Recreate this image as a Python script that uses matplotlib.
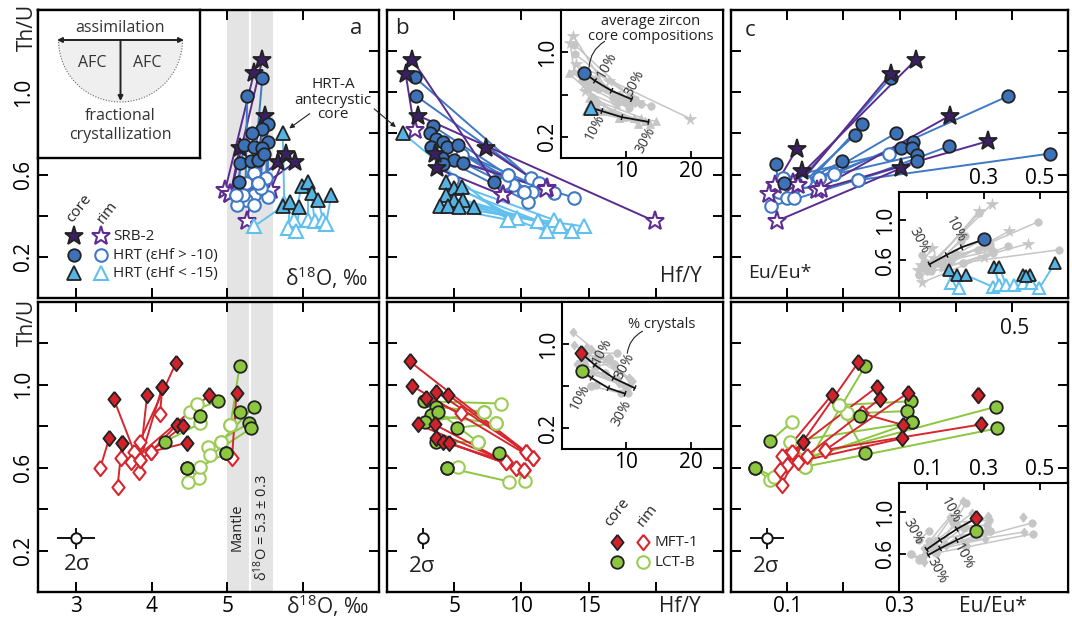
import matplotlib
matplotlib.use('Agg')
import numpy as np
import matplotlib.pyplot as plt
from matplotlib.patches import Wedge, FancyArrowPatch
from matplotlib.lines import Line2D

plt.rcParams['font.family'] = ['Open Sans', 'DejaVu Sans']
plt.rcParams['mathtext.fontset'] = 'custom'
plt.rcParams['mathtext.rm'] = 'Open Sans'
plt.rcParams['mathtext.it'] = 'Open Sans:italic'

# ---------------- data: panel a (delta18O vs Th/U), top ----------------
srb_a_core_x = [5.46, 5.35, 5.49, 5.16, 5.67, 5.77, 5.89]
srb_a_core_y = [1.158, 1.094, 0.887, 0.727, 0.659, 0.70, 0.659]
srb_a_rim_x = [5.04, 4.97, 5.26, 5.04, 5.30, 5.57, 5.40]
srb_a_rim_y = [0.504, 0.525, 0.375, 0.504, 0.55, 0.525, 0.53]

hrt1_a_core_x = [5.46, 5.26, 5.53, 5.46, 5.33, 5.22, 5.35, 5.53, 5.46, 5.17, 5.31, 5.40, 5.48, 5.15]
hrt1_a_core_y = [1.068, 0.981, 0.847, 0.82, 0.80, 0.743, 0.735, 0.76, 0.727, 0.654, 0.665, 0.67, 0.70, 0.562]
hrt1_a_rim_x = [5.35, 5.24, 5.51, 5.40, 5.35, 5.11, 5.24, 5.53, 5.44, 5.13, 5.21, 5.35, 5.40, 5.11]
hrt1_a_rim_y = [0.606, 0.557, 0.582, 0.557, 0.50, 0.50, 0.475, 0.49, 0.533, 0.451, 0.50, 0.451, 0.557, 0.50]

hrt2_a_core_x = [5.73, 5.73, 5.98, 6.06, 6.11, 6.20, 6.37, 5.83, 5.95]
hrt2_a_core_y = [0.80, 0.445, 0.546, 0.566, 0.51, 0.477, 0.50, 0.469, 0.44]
hrt2_a_rim_x = [5.75, 5.35, 5.88, 6.06, 6.15, 6.26, 6.30, 5.80, 5.91]
hrt2_a_rim_y = [0.46, 0.348, 0.38, 0.38, 0.372, 0.38, 0.36, 0.34, 0.324]

# ---------------- panel b (Hf/Y vs Th/U), top ----------------
srb_b_core_x = [1.89, 1.39, 2.31, 7.37, 3.72, 3.60]
srb_b_core_y = [1.158, 1.089, 0.887, 0.727, 0.63, 0.70]
srb_b_rim_x = [8.60, 2.06, 19.96, 11.9, 8.60, 11.8]
srb_b_rim_y = [0.50, 0.815, 0.372, 0.533, 0.50, 0.53]

hrt1_b_core_x = [2.06, 2.13, 3.42, 3.17, 3.67, 4.16, 3.30, 4.48, 5.27, 4.11, 5.02, 5.69, 4.16, 7.99]
hrt1_b_core_y = [1.073, 0.984, 0.836, 0.80, 0.775, 0.76, 0.735, 0.735, 0.743, 0.68, 0.67, 0.654, 0.649, 0.566]
hrt1_b_rim_x = [10.7, 11.3, 8.98, 10.2, 9.35, 10.8, 8.73, 12.4, 5.59, 10.5, 13.9, 8.98, 4.85, 10.2]
hrt1_b_rim_y = [0.582, 0.557, 0.598, 0.517, 0.549, 0.517, 0.557, 0.509, 0.697, 0.469, 0.488, 0.598, 0.573, 0.517]

hrt2_b_core_x = [1.2, 4.36, 5.02, 5.59, 4.36, 5.02, 5.69, 3.91, 4.53, 5.35, 6.5]
hrt2_b_core_y = [0.80, 0.566, 0.533, 0.541, 0.50, 0.477, 0.477, 0.445, 0.445, 0.44, 0.44]
hrt2_b_rim_x = [9.0, 9.7, 11.2, 12.4, 11.9, 12.9, 13.8, 9.0, 14.65, 11.2, 12.9]
hrt2_b_rim_y = [0.38, 0.388, 0.376, 0.38, 0.324, 0.348, 0.324, 0.38, 0.348, 0.376, 0.348]

# ---------------- panel c (Eu/Eu* vs Th/U), top ----------------
srb_c_core_x = [0.329, 0.284, 0.39, 0.457, 0.117, 0.126, 0.302]
srb_c_core_y = [1.158, 1.089, 0.887, 0.762, 0.723, 0.617, 0.63]
srb_c_rim_x = [0.11, 0.12, 0.153, 0.16, 0.079, 0.067, 0.082]
srb_c_rim_y = [0.56, 0.55, 0.525, 0.53, 0.549, 0.504, 0.375]

hrt1_c_core_x = [0.080, 0.095, 0.284, 0.493, 0.233, 0.22, 0.294, 0.302, 0.324, 0.323, 0.388, 0.332, 0.332, 0.198, 0.568]
hrt1_c_core_y = [0.651, 0.561, 1.07, 0.981, 0.844, 0.791, 0.802, 0.727, 0.759, 0.731, 0.738, 0.694, 0.665, 0.665, 0.702]
hrt1_c_rim_x = [0.085, 0.099, 0.117, 0.184, 0.112, 0.132, 0.156, 0.281, 0.156, 0.093, 0.226, 0.184, 0.071, 0.132, 0.226]
hrt1_c_rim_y = [0.517, 0.488, 0.553, 0.601, 0.488, 0.569, 0.582, 0.698, 0.582, 0.582, 0.573, 0.601, 0.445, 0.569, 0.573]

hrt2_c_core_x = [0.177, 0.207, 0.237, 0.338, 0.356, 0.44, 0.464, 0.553, 0.45]
hrt2_c_core_y = [0.50, 0.45, 0.45, 0.527, 0.527, 0.45, 0.45, 0.567, 0.44]
hrt2_c_rim_x = [0.183, 0.213, 0.332, 0.356, 0.38, 0.41, 0.44, 0.498, 0.47]
hrt2_c_rim_y = [0.367, 0.317, 0.333, 0.35, 0.35, 0.35, 0.367, 0.317, 0.367]

# ---------------- bottom row ----------------
mft_a_core_x = [4.32, 4.14, 3.94, 3.50, 4.76, 5.12, 4.33, 4.41, 4.46, 3.44, 3.61, 3.61, 4.14]
mft_a_core_y = [1.105, 0.99, 0.95, 0.931, 0.95, 0.963, 0.806, 0.802, 0.72, 0.742, 0.718, 0.718, 0.99]
mft_a_rim_x = [3.84, 4.11, 3.83, 3.77, 3.73, 5.06, 3.99, 3.85, 3.99, 3.32, 3.60, 3.55, 3.85]
mft_a_rim_y = [0.725, 0.857, 0.581, 0.677, 0.629, 0.646, 0.677, 0.637, 0.677, 0.598, 0.646, 0.509, 0.637]

lct_a_core_x = [5.16, 4.87, 5.17, 5.35, 4.64, 5.28, 5.31, 4.17, 4.98, 4.47, 4.98, 4.47]
lct_a_core_y = [1.09, 0.921, 0.87, 0.894, 0.849, 0.814, 0.79, 0.725, 0.67, 0.598, 0.67, 0.598]
lct_a_rim_x = [5.04, 4.51, 5.04, 4.91, 4.60, 4.75, 4.77, 4.64, 4.91, 4.63, 4.64, 4.48]
lct_a_rim_y = [0.806, 0.87, 0.806, 0.725, 0.91, 0.70, 0.66, 0.814, 0.725, 0.55, 0.605, 0.533]

mft_b_core_x = [1.69, 1.87, 2.93, 3.67, 4.53, 2.31, 3.54, 3.61, 4.16, 4.65]
mft_b_core_y = [1.113, 0.995, 0.937, 0.966, 0.953, 0.809, 0.809, 0.742, 0.725, 0.72]
mft_b_rim_x = [10.33, 10.83, 5.52, 10.33, 10.83, 8.85, 9.59, 10.2, 8.85, 10.2]
mft_b_rim_y = [0.677, 0.646, 0.862, 0.677, 0.646, 0.63, 0.601, 0.589, 0.63, 0.589]

lct_b_core_x = [2.75, 3.67, 3.30, 3.79, 2.85, 5.22, 3.67, 8.36, 4.46, 4.46]
lct_b_core_y = [0.921, 0.894, 0.854, 0.87, 0.819, 0.793, 0.725, 0.673, 0.601, 0.601]
lct_b_rim_x = [8.48, 7.24, 8.11, 6.75, 7.24, 8.11, 6.75, 10.26, 5.27, 9.1]
lct_b_rim_y = [0.91, 0.87, 0.814, 0.725, 0.87, 0.814, 0.725, 0.537, 0.605, 0.533]

mft_c_core_x = [0.227, 0.26, 0.18, 0.266, 0.316, 0.44, 0.445, 0.307, 0.305, 0.129, 0.129]
mft_c_core_y = [1.11, 0.99, 0.953, 0.934, 0.963, 0.95, 0.809, 0.806, 0.742, 0.725, 0.725]
mft_c_rim_x = [0.099, 0.108, 0.09, 0.135, 0.168, 0.44, 0.168, 0.233, 0.12, 0.088, 0.09]
mft_c_rim_y = [0.613, 0.677, 0.658, 0.658, 0.686, 0.95, 0.686, 0.862, 0.629, 0.589, 0.517]

lct_c_core_x = [0.239, 0.32, 0.313, 0.323, 0.471, 0.474, 0.23, 0.239, 0.07, 0.043, 0.323, 0.043]
lct_c_core_y = [1.091, 0.921, 0.873, 0.819, 0.894, 0.79, 0.85, 0.67, 0.729, 0.598, 0.819, 0.598]
lct_c_rim_x = [0.132, 0.192, 0.207, 0.132, 0.12, 0.132, 0.207, 0.192, 0.108, 0.07, 0.105, 0.076]
lct_c_rim_y = [0.605, 0.902, 0.862, 0.64, 0.64, 0.605, 0.862, 0.902, 0.819, 0.541, 0.725, 0.557]

# ---------------- model curves (insets) ----------------
avg_b_hrt1 = (3.6, 0.805)
curve_b_hrt1_x = [3.6, 5.25, 7.8, 10.9]
curve_b_hrt1_y = [0.805, 0.73, 0.636, 0.556]
avg_b_hrt2 = (4.63, 0.476)
curve_b_hrt2_x = [4.63, 6.3, 9.4, 13.5]
curve_b_hrt2_y = [0.476, 0.444, 0.386, 0.342]
avg_c_hrt1 = (0.302, 0.807)
curve_c_hrt1_x = [0.302, 0.222, 0.169, 0.108]
curve_c_hrt1_y = [0.807, 0.727, 0.65, 0.557]

avg_b_mft = (2.95, 0.914)
curve_b_mft_x = [2.95, 5.1, 8.0, 11.3]
curve_b_mft_y = [0.914, 0.80, 0.676, 0.58]
avg_b_lct = (3.06, 0.746)
curve_b_lct_x = [3.06, 4.6, 7.2, 9.8]
curve_b_lct_y = [0.746, 0.676, 0.58, 0.527]
avg_c_mft = (0.273, 0.939)
curve_c_mft_x = [0.273, 0.205, 0.146, 0.098]
curve_c_mft_y = [0.939, 0.836, 0.73, 0.64]
avg_c_lct = (0.273, 0.816)
curve_c_lct_x = [0.273, 0.205, 0.146, 0.104]
curve_c_lct_y = [0.816, 0.73, 0.65, 0.586]

# 2 sigma error bars (x, y, xerr, yerr)
err_a = (3.0, 0.26, 0.25, 0.05)
err_b = (2.7, 0.26, 0.3, 0.05)
err_c = (0.064, 0.26, 0.03, 0.05)

# ---------------- styles ----------------
DIAM = [(0, 1), (0.8, 0), (0, -1), (-0.8, 0), (0, 1)]
S_SRB = dict(marker='*', ms=14, fill='#3b1f63', rim='#5e2d91', line='#5b2c8f')
S_HRT1 = dict(marker='o', ms=9, fill='#3d72b8', rim='#3f78c4', line='#3f78c4')
S_HRT2 = dict(marker='^', ms=9.5, fill='#56b4e4', rim='#62c0ef', line='#62c0ef')
S_MFT = dict(marker=DIAM, ms=11, fill='#d1222b', rim='#d7262e', line='#d7262e')
S_LCT = dict(marker='o', ms=9, fill='#8dc63f', rim='#9ccc55', line='#8dc63f')
GRAY = '#c6c6c6'
EDGE = '#222222'

W, H = 1072, 619
fig = plt.figure(figsize=(W / 100, H / 100), dpi=100)
fig.patch.set_facecolor('white')


def px_axes(l, t, r, b):
    return fig.add_axes([l / W, 1 - b / H, (r - l) / W, (b - t) / H])


def ftext(x, y, s, **kw):
    kw.setdefault('ha', 'center')
    kw.setdefault('va', 'center')
    kw.setdefault('color', '#222222')
    return fig.text(x / W, 1 - y / H, s, **kw)


def fp(x, y):
    return (x, H - y)


def draw_pairs(ax, cx, cy, rx, ry, st, scale=1.0):
    for x0, y0, x1, y1 in zip(cx, cy, rx, ry):
        ax.plot([x0, x1], [y0, y1], color=st['line'], lw=1.4, zorder=2, solid_capstyle='round')
    ax.plot(rx, ry, ls='none', marker=st['marker'], ms=st['ms'] * scale, mfc='white',
            mec=st['rim'], mew=1.5, zorder=3)
    ax.plot(cx, cy, ls='none', marker=st['marker'], ms=st['ms'] * scale, mfc=st['fill'],
            mec=EDGE, mew=1.3, zorder=4)


def draw_gray(ax, cx, cy, rx, ry, st):
    for x0, y0, x1, y1 in zip(cx, cy, rx, ry):
        ax.plot([x0, x1], [y0, y1], color=GRAY, lw=1.1, zorder=1)
    ax.plot(list(cx) + list(rx), list(cy) + list(ry), ls='none', marker=st['marker'],
            ms=st['ms'] * 0.6, mfc=GRAY, mec=GRAY, mew=0.5, zorder=1)


def style_main(ax, xlim, xticks):
    ax.set_xlim(*xlim)
    ax.set_ylim(0, 1.4)
    ax.set_xticks(xticks)
    ax.set_yticks([0.2, 0.4, 0.6, 0.8, 1.0, 1.2])
    ax.tick_params(direction='in', length=7, width=1.4, top=True, right=True,
                   labelbottom=False, labelleft=False, labelsize=15, pad=3)
    for s in ax.spines.values():
        s.set_linewidth(1.7)


def style_inset(ax, xlim, ylim, xticks, xlabels, yticks, ylabels, top=False):
    ax.set_xlim(*xlim)
    ax.set_ylim(*ylim)
    ax.set_xticks(xticks)
    ax.set_xticklabels(xlabels)
    ax.set_yticks(yticks)
    ax.set_yticklabels(ylabels, rotation=90, va='center')
    ax.tick_params(direction='in', length=5, width=1.3, labelsize=15, pad=2,
                   top=top, bottom=not top, labeltop=top, labelbottom=not top)
    for s in ax.spines.values():
        s.set_linewidth(1.5)
    ax.set_facecolor('white')


def model_curve(ax, xs, ys):
    ax.plot(xs, ys, color='#111111', lw=1.3, zorder=5)
    pts = ax.transData.transform(np.column_stack([xs, ys]))
    inv = ax.transData.inverted()
    n = len(pts)
    for i in range(1, n):
        d = pts[min(i + 1, n - 1)] - pts[i - 1]
        nv = np.array([-d[1], d[0]]) / np.hypot(*d) * 2.3
        seg = inv.transform(np.array([pts[i] - nv, pts[i] + nv]))
        ax.plot(seg[:, 0], seg[:, 1], color='#111111', lw=1.0, zorder=5)


# ---------------- main axes ----------------
ax_a1 = px_axes(38, 10, 379, 298)
ax_b1 = px_axes(387, 10, 723, 298)
ax_c1 = px_axes(731, 10, 1068, 298)
ax_a2 = px_axes(38, 302, 379, 592)
ax_b2 = px_axes(387, 302, 723, 592)
ax_c2 = px_axes(731, 302, 1068, 592)

for ax in (ax_a1, ax_a2):
    style_main(ax, (2.5, 7.0), [3, 4, 5, 6])
    ax.axvspan(5.0, 5.6, color='#e4e4e4', lw=0, zorder=0)
    ax.axvline(5.3, color='white', lw=1.6, zorder=0.5)
for ax in (ax_b1, ax_b2):
    style_main(ax, (0, 25), [5, 10, 15, 20])
for ax in (ax_c1, ax_c2):
    style_main(ax, (0, 0.6), [0.1, 0.2, 0.3, 0.4, 0.5])

for ax in (ax_a1, ax_a2):
    ax.tick_params(labelleft=True)
    ax.set_yticklabels(['0.2', '', '0.6', '', '1.0', ''], rotation=90, va='center')
for ax, labs in ((ax_a2, ['3', '4', '5', '']), (ax_b2, ['5', '10', '15', '']),
                 (ax_c2, ['0.1', '', '0.3', '', ''])):
    ax.tick_params(labelbottom=True)
    ax.set_xticklabels(labs)

# data
draw_pairs(ax_a1, srb_a_core_x, srb_a_core_y, srb_a_rim_x, srb_a_rim_y, S_SRB)
draw_pairs(ax_a1, hrt1_a_core_x, hrt1_a_core_y, hrt1_a_rim_x, hrt1_a_rim_y, S_HRT1)
draw_pairs(ax_a1, hrt2_a_core_x, hrt2_a_core_y, hrt2_a_rim_x, hrt2_a_rim_y, S_HRT2)

draw_pairs(ax_b1, hrt2_b_core_x, hrt2_b_core_y, hrt2_b_rim_x, hrt2_b_rim_y, S_HRT2)
draw_pairs(ax_b1, hrt1_b_core_x, hrt1_b_core_y, hrt1_b_rim_x, hrt1_b_rim_y, S_HRT1)
draw_pairs(ax_b1, srb_b_core_x, srb_b_core_y, srb_b_rim_x, srb_b_rim_y, S_SRB)

draw_pairs(ax_c1, hrt1_c_core_x, hrt1_c_core_y, hrt1_c_rim_x, hrt1_c_rim_y, S_HRT1)
draw_pairs(ax_c1, srb_c_core_x, srb_c_core_y, srb_c_rim_x, srb_c_rim_y, S_SRB)

draw_pairs(ax_a2, lct_a_core_x, lct_a_core_y, lct_a_rim_x, lct_a_rim_y, S_LCT)
draw_pairs(ax_a2, mft_a_core_x, mft_a_core_y, mft_a_rim_x, mft_a_rim_y, S_MFT)
draw_pairs(ax_b2, lct_b_core_x, lct_b_core_y, lct_b_rim_x, lct_b_rim_y, S_LCT)
draw_pairs(ax_b2, mft_b_core_x, mft_b_core_y, mft_b_rim_x, mft_b_rim_y, S_MFT)
draw_pairs(ax_c2, lct_c_core_x, lct_c_core_y, lct_c_rim_x, lct_c_rim_y, S_LCT)
draw_pairs(ax_c2, mft_c_core_x, mft_c_core_y, mft_c_rim_x, mft_c_rim_y, S_MFT)

# 2 sigma
for ax, e in ((ax_a2, err_a), (ax_b2, err_b), (ax_c2, err_c)):
    ax.errorbar([e[0]], [e[1]], xerr=[e[2]], yerr=[e[3]], fmt='o', ms=7.5, mfc='white',
                mec='#111111', mew=1.4, ecolor='#111111', elinewidth=1.4, capsize=0, zorder=5)

# ---------------- insets ----------------
in_b1 = px_axes(561, 10, 723, 158)
style_inset(in_b1, (0, 25), (0, 1.4), [10, 20], ['10', '20'], [0.2, 0.6, 1.0], ['0.2', '', '1.0'])
draw_gray(in_b1, srb_b_core_x, srb_b_core_y, srb_b_rim_x, srb_b_rim_y, S_SRB)
draw_gray(in_b1, hrt1_b_core_x, hrt1_b_core_y, hrt1_b_rim_x, hrt1_b_rim_y, S_HRT1)
draw_gray(in_b1, hrt2_b_core_x, hrt2_b_core_y, hrt2_b_rim_x, hrt2_b_rim_y, S_HRT2)
model_curve(in_b1, curve_b_hrt1_x, curve_b_hrt1_y)
model_curve(in_b1, curve_b_hrt2_x, curve_b_hrt2_y)
in_b1.plot(*avg_b_hrt1, marker='o', ms=9, mfc=S_HRT1['fill'], mec=EDGE, mew=1.3, zorder=6)
in_b1.plot(*avg_b_hrt2, marker='^', ms=9.5, mfc=S_HRT2['fill'], mec=EDGE, mew=1.3, zorder=6)
for (x, y, s) in ((7.05, 0.875, '10%'), (11.4, 0.706, '30%'), (5.35, 0.29, '10%'), (13.0, 0.17, '30%')):
    in_b1.text(x, y, s, rotation=62, ha='center', va='center', fontsize=10, color='#333333', zorder=7)

in_b2 = px_axes(562, 302, 723, 449)
style_inset(in_b2, (0, 25), (0, 1.4), [10, 20], ['10', '20'], [0.2, 0.6, 1.0], ['0.2', '', '1.0'])
draw_gray(in_b2, mft_b_core_x, mft_b_core_y, mft_b_rim_x, mft_b_rim_y, S_MFT)
draw_gray(in_b2, lct_b_core_x, lct_b_core_y, lct_b_rim_x, lct_b_rim_y, S_LCT)
model_curve(in_b2, curve_b_mft_x, curve_b_mft_y)
model_curve(in_b2, curve_b_lct_x, curve_b_lct_y)
in_b2.plot(*avg_b_mft, marker=DIAM, ms=11, mfc=S_MFT['fill'], mec=EDGE, mew=1.3, zorder=6)
in_b2.plot(*avg_b_lct, marker='o', ms=9, mfc=S_LCT['fill'], mec=EDGE, mew=1.3, zorder=6)
for (x, y, s) in ((6.2, 0.93, '10%'), (9.8, 0.79, '30%'), (2.8, 0.49, '10%'), (9.2, 0.345, '30%')):
    in_b2.text(x, y, s, rotation=62, ha='center', va='center', fontsize=10, color='#333333', zorder=7)

in_c1 = px_axes(899, 192, 1068, 298)
style_inset(in_c1, (0, 0.6), (0.22, 1.28), [0.1, 0.3, 0.5], ['', '0.3', '0.5'],
            [0.6, 1.0], ['0.6', '1.0'], top=True)
draw_gray(in_c1, srb_c_core_x, srb_c_core_y, srb_c_rim_x, srb_c_rim_y, S_SRB)
draw_gray(in_c1, hrt1_c_core_x, hrt1_c_core_y, hrt1_c_rim_x, hrt1_c_rim_y, S_HRT1)
draw_pairs(in_c1, hrt2_c_core_x, hrt2_c_core_y, hrt2_c_rim_x, hrt2_c_rim_y, S_HRT2, scale=0.95)
model_curve(in_c1, curve_c_hrt1_x, curve_c_hrt1_y)
in_c1.plot(*avg_c_hrt1, marker='o', ms=9, mfc=S_HRT1['fill'], mec=EDGE, mew=1.3, zorder=6)
for (x, y, s) in ((0.199, 0.90, '10%'), (0.069, 0.80, '30%')):
    in_c1.text(x, y, s, rotation=-62, ha='center', va='center', fontsize=10, color='#333333', zorder=7)

in_c2 = px_axes(899, 483, 1068, 592)
style_inset(in_c2, (0, 0.6), (0.23, 1.28), [0.1, 0.3, 0.5], ['0.1', '0.3', '0.5'],
            [0.6, 1.0], ['0.6', '1.0'], top=True)
draw_gray(in_c2, mft_c_core_x, mft_c_core_y, mft_c_rim_x, mft_c_rim_y, S_MFT)
draw_gray(in_c2, lct_c_core_x, lct_c_core_y, lct_c_rim_x, lct_c_rim_y, S_LCT)
model_curve(in_c2, curve_c_mft_x, curve_c_mft_y)
model_curve(in_c2, curve_c_lct_x, curve_c_lct_y)
in_c2.plot(*avg_c_mft, marker=DIAM, ms=11, mfc=S_MFT['fill'], mec=EDGE, mew=1.3, zorder=6)
in_c2.plot(*avg_c_lct, marker='o', ms=9, mfc=S_LCT['fill'], mec=EDGE, mew=1.3, zorder=6)
for (x, y, s) in ((0.181, 1.01, '10%'), (0.051, 0.816, '30%'), (0.228, 0.57, '10%'), (0.134, 0.44, '30%')):
    in_c2.text(x, y, s, rotation=-62, ha='center', va='center', fontsize=10, color='#333333', zorder=7)

# ---------------- AFC schematic ----------------
afc = px_axes(38, 10, 200, 158)
afc.set_xlim(38, 200)
afc.set_ylim(158, 10)
afc.set_xticks([])
afc.set_yticks([])
for s in afc.spines.values():
    s.set_linewidth(1.7)
afc.add_patch(Wedge((120.5, 40), 62, 0, 180, facecolor='#efefef', edgecolor='#666666',
                    ls=(0, (1, 1.5)), lw=0.8))
afc.annotate('', xy=(57, 40), xytext=(184, 40),
             arrowprops=dict(arrowstyle='<|-|>', lw=1.4, color='#222222', mutation_scale=7,
                             shrinkA=0, shrinkB=0))
afc.annotate('', xy=(120.5, 101), xytext=(120.5, 40),
             arrowprops=dict(arrowstyle='-|>', lw=1.4, color='#222222', mutation_scale=7,
                             shrinkA=0, shrinkB=0))
for (x, y, s) in ((120, 28, 'assimilation'), (92, 63, 'AFC'), (147, 63, 'AFC'),
                  (120, 116, 'fractional'), (120, 135, 'crystallization')):
    afc.text(x, y, s, ha='center', va='center', fontsize=11.5, color='#333333')

# ---------------- texts ----------------
ftext(27, 27, 'Th/U', rotation=90, fontsize=15)
ftext(27, 322, 'Th/U', rotation=90, fontsize=15)
ftext(356, 29, 'a', fontsize=16)
ftext(402, 29, 'b', fontsize=16)
ftext(750, 31, 'c', fontsize=16)
ftext(326, 278, r'δ$^{\mathrm{18}}$O, ‰', fontsize=15)
ftext(681, 277, 'Hf/Y', fontsize=15)
ftext(780, 273, 'Eu/Eu*', fontsize=14)
ftext(327, 606, r'δ$^{\mathrm{18}}$O, ‰', fontsize=15)
ftext(680, 606, 'Hf/Y', fontsize=15)
ftext(993, 606, 'Eu/Eu*', fontsize=15)
ftext(1015, 329, '0.5', fontsize=15, color='#111111')
ftext(77, 564, '2σ', fontsize=16)
ftext(422, 567, '2σ', fontsize=16)
ftext(766, 567, '2σ', fontsize=16)
ftext(237, 527, 'Mantle', rotation=90, fontsize=10.5)
ftext(262, 528, r'δ$^{\mathrm{18}}$O = 5.3 ± 0.3', rotation=90, fontsize=10.5)

# HRT-A annotation
ftext(333, 100, 'HRT-A\nantecrystic\ncore', fontsize=11, linespacing=1.0)
fig.add_artist(FancyArrowPatch(fp(312, 112), fp(287, 130), arrowstyle='-|>', mutation_scale=7,
                               lw=0.8, color='#222222', transform=None))
fig.add_artist(FancyArrowPatch(fp(372, 107), fp(398, 129), arrowstyle='-|>', mutation_scale=7,
                               lw=0.8, color='#222222', transform=None))

ftext(651, 29, 'average zircon\ncore compositions', fontsize=10.5, linespacing=0.95)
fig.add_artist(FancyArrowPatch(fp(607, 40), fp(589, 70), arrowstyle='-', lw=0.8, color='#222222',
                               connectionstyle='arc3,rad=0.3', transform=None))
ftext(662, 325, '% crystals', fontsize=10.5)
fig.add_artist(FancyArrowPatch(fp(645, 330), fp(627, 356), arrowstyle='-', lw=0.8, color='#222222',
                               connectionstyle='arc3,rad=0.3', transform=None))


# legends
def leg_marker(x, y, st, filled):
    fig.add_artist(Line2D([x / W], [1 - y / H], marker=st['marker'], ms=st['ms'],
                          mfc=st['fill'] if filled else 'white', mec=EDGE if filled else st['rim'],
                          mew=1.3 if filled else 1.5, transform=fig.transFigure))


ftext(79, 208, 'core', rotation=52, fontsize=11)
ftext(107, 212, 'rim', rotation=52, fontsize=11)
for y, st, lab in ((236, S_SRB, 'SRB-2'), (255, S_HRT1, 'HRT (εHf > -10)'),
                   (273, S_HRT2, 'HRT (εHf < -15)')):
    leg_marker(74, y, st, True)
    leg_marker(101, y, st, False)
    ftext(113, y, lab, ha='left', fontsize=11)

ftext(617, 512, 'core', rotation=52, fontsize=11)
ftext(647, 515, 'rim', rotation=52, fontsize=11)
for y, st, lab in ((542, S_MFT, 'MFT-1'), (562, S_LCT, 'LCT-B')):
    leg_marker(617, y, st, True)
    leg_marker(643, y, st, False)
    ftext(655, y, lab, ha='left', fontsize=11)

fig.savefig('out.png', dpi=100, facecolor='white')
